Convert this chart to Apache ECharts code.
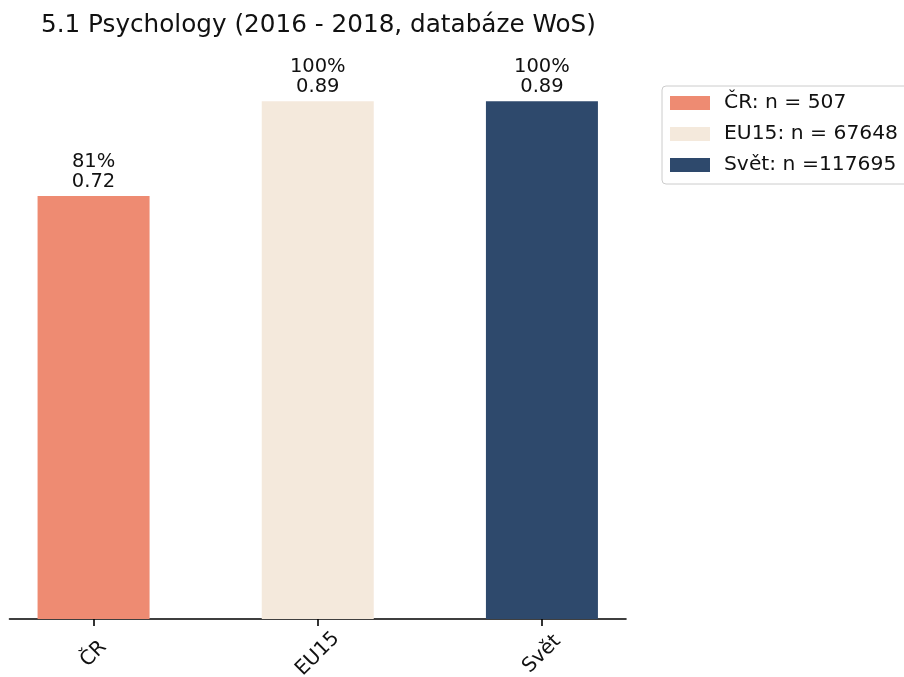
<!DOCTYPE html>
<html>
<head>
<meta charset="utf-8">
<script src="https://cdn.jsdelivr.net/npm/echarts@6/dist/echarts.min.js"></script>
<style>
  html, body { margin: 0; padding: 0; background: #fff; }
  #main { width: 904px; height: 677px; }
</style>
</head>
<body>
<div id="main"></div>
<script>
// data
var categories = ['ČR', 'EU15', 'Svět']
var values = [0.724, 0.886, 0.886]
var percents = [81, 100, 100]
var legendNames = ['ČR: n = 507', 'EU15: n = 67648', 'Svět: n =117695']
var positions = [0, 1, 2]

var chart = echarts.init(document.getElementById('main'))
var font = 'DejaVu Sans'

var series = categories.map(function (c, i) {
    return {
        name: legendNames[i],
        type: 'bar',
        barWidth: 112,
        barGap: '-100%',
        data: [[positions[i], values[i]]],
        label: {
            show: true,
            position: 'top',
            distance: 4,
            fontFamily: font,
            fontSize: 19.5,
            lineHeight: 20,
            color: '#111',
            formatter: function (p) {
                return percents[i] + '%\n' + p.value[1].toFixed(2)
            }
        }
    }
})

var option = {
    animation: false,
    color: ['#EE8B72', '#F4E9DC', '#2E496C'],
    title: {
        text: '5.1 Psychology (2016 - 2018, databáze WoS)',
        left: 41,
        top: 13,
        padding: 0,
        textStyle: { fontFamily: font, fontSize: 24.7, fontWeight: 'normal', color: '#111' }
    },
    legend: {
        orient: 'vertical',
        left: 662,
        top: 86,
        padding: [7, 12, 9, 8],
        itemWidth: 40,
        itemHeight: 14,
        itemGap: 11,
        borderColor: '#cccccc',
        borderWidth: 1,
        borderRadius: 4,
        icon: 'rect',
        textStyle: { fontFamily: font, fontSize: 20.3, color: '#111', padding: [0, 0, 0, 9] },
        data: legendNames
    },
    grid: { left: 9.5, right: 278, top: 75.6, bottom: 58, outerBoundsMode: 'none' },
    xAxis: {
        type: 'value',
        min: -0.375,
        max: 2.375,
        splitLine: { show: false },
        axisLine: { show: true, onZero: false, lineStyle: { color: '#000', width: 1.6 } },
        axisTick: { show: true, customValues: positions, length: 7, lineStyle: { color: '#000', width: 1.6 } },
        axisLabel: {
            customValues: positions,
            formatter: function (v) { return categories[Math.round(v)] },
            rotate: 45,
            align: 'center',
            verticalAlign: 'middle',
            margin: 35,
            fontFamily: font,
            fontSize: 20,
            color: '#111'
        }
    },
    yAxis: {
        type: 'value',
        min: 0,
        max: 0.93,
        show: false
    },
    series: series
}
chart.setOption(option)
</script>
</body>
</html>
